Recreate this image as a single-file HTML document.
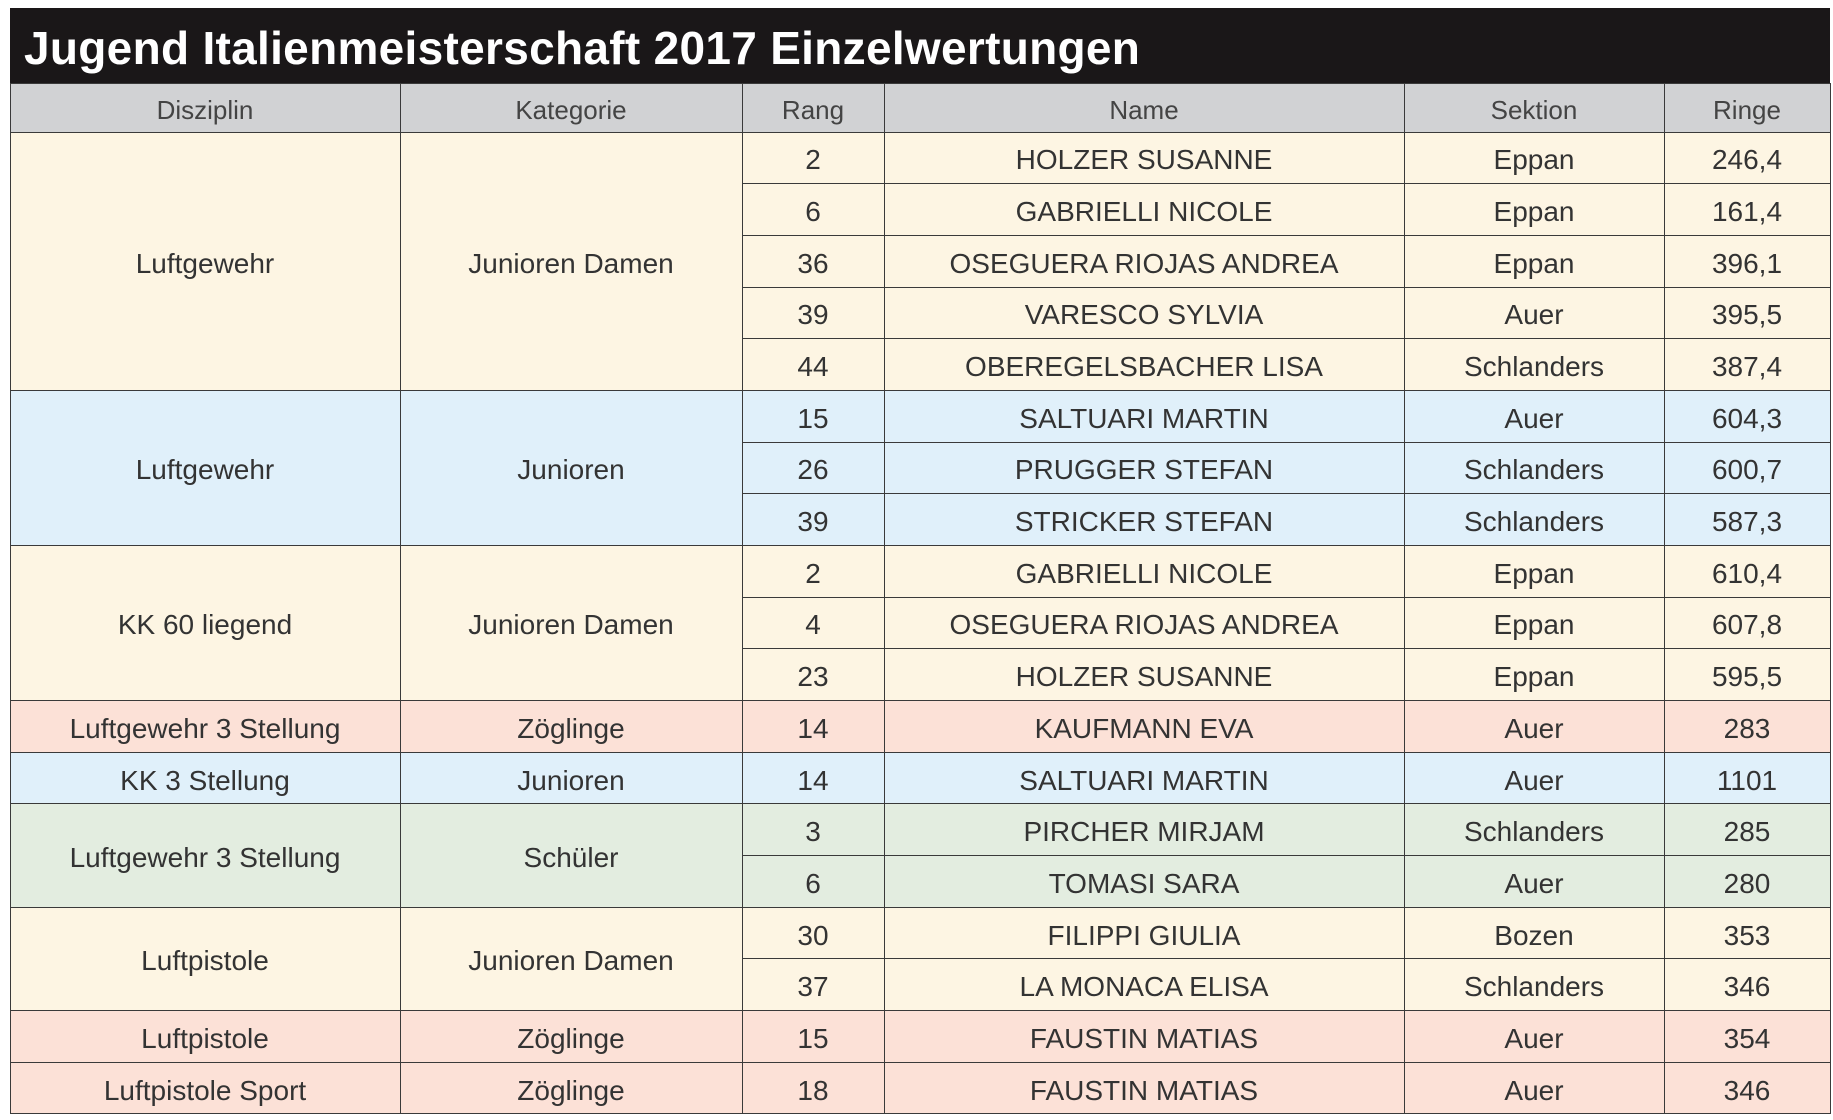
<!DOCTYPE html>
<html><head><meta charset="utf-8">
<style>
html,body{margin:0;padding:0;background:#fff;width:1833px;height:1120px;overflow:hidden;font-family:"Liberation Sans",sans-serif;}
#title{position:absolute;left:10px;top:8px;width:1820px;height:75px;background:#1a1718;color:#fff;font-weight:bold;font-size:46px;line-height:80px;box-sizing:border-box;padding-left:14px;letter-spacing:0.3px;}
.c{position:absolute;box-sizing:border-box;border:1px solid #3a3a3a;display:flex;align-items:center;justify-content:center;color:#333;font-size:28px;margin:-0.5px 0 0 -0.5px;padding-top:5px;}
.h{background:#d1d2d4;font-size:26px;color:#444;}
</style></head><body>
<div id="title">Jugend Italienmeisterschaft 2017 Einzelwertungen</div>
<div id="tbl"></div>
<script>
const colX=[10,400,742,884,1404,1664,1830];
const headers=["Disziplin","Kategorie","Rang","Name","Sektion","Ringe"];
const groups=[
 ["Luftgewehr","Junioren Damen","#fdf5e3",[["2","HOLZER SUSANNE","Eppan","246,4"],["6","GABRIELLI NICOLE","Eppan","161,4"],["36","OSEGUERA RIOJAS ANDREA","Eppan","396,1"],["39","VARESCO SYLVIA","Auer","395,5"],["44","OBEREGELSBACHER LISA","Schlanders","387,4"]]],
 ["Luftgewehr","Junioren","#e0f0fa",[["15","SALTUARI MARTIN","Auer","604,3"],["26","PRUGGER STEFAN","Schlanders","600,7"],["39","STRICKER STEFAN","Schlanders","587,3"]]],
 ["KK 60 liegend","Junioren Damen","#fdf5e3",[["2","GABRIELLI NICOLE","Eppan","610,4"],["4","OSEGUERA RIOJAS ANDREA","Eppan","607,8"],["23","HOLZER SUSANNE","Eppan","595,5"]]],
 ["Luftgewehr 3 Stellung","Zöglinge","#fce1d7",[["14","KAUFMANN EVA","Auer","283"]]],
 ["KK 3 Stellung","Junioren","#e0f0fa",[["14","SALTUARI MARTIN","Auer","1101"]]],
 ["Luftgewehr 3 Stellung","Schüler","#e3ede0",[["3","PIRCHER MIRJAM","Schlanders","285"],["6","TOMASI SARA","Auer","280"]]],
 ["Luftpistole","Junioren Damen","#fdf5e3",[["30","FILIPPI GIULIA","Bozen","353"],["37","LA MONACA ELISA","Schlanders","346"]]],
 ["Luftpistole","Zöglinge","#fce1d7",[["15","FAUSTIN MATIAS","Auer","354"]]],
 ["Luftpistole Sport","Zöglinge","#fce1d7",[["18","FAUSTIN MATIAS","Auer","346"]]]
];
const tbl=document.getElementById('tbl');
function cell(x0,x1,y0,y1,txt,bg,cls,name){
 const d=document.createElement('div');
 d.className='c '+(cls||'');
 d.style.left=x0+'px';d.style.top=y0+'px';d.style.width=(x1-x0+1)+'px';d.style.height=(y1-y0+1)+'px';
 if(bg)d.style.background=bg;
 d.textContent=txt;
 
 
 tbl.appendChild(d);
}
const hTop=83,hBot=132,rowH=(1114-132)/19;
headers.forEach((h,i)=>cell(colX[i],colX[i+1],hTop,hBot,h,null,'h','header-'+h.toLowerCase()));
let r=0;
groups.forEach(g=>{
 const y0=hBot+r*rowH,y1=hBot+(r+g[3].length)*rowH;
 cell(colX[0],colX[1],y0,y1,g[0],g[2],'','disziplin-cell');
 cell(colX[1],colX[2],y0,y1,g[1],g[2],'','kategorie-cell');
 g[3].forEach((row,k)=>{
  const a=hBot+(r+k)*rowH,b=a+rowH;
  const names=['rang-cell','name-cell','sektion-cell','ringe-cell'];
  row.forEach((v,j)=>cell(colX[j+2],colX[j+3],a,b,v,g[2],'',names[j]));
 });
 r+=g[3].length;
});
</script>
</body></html>
